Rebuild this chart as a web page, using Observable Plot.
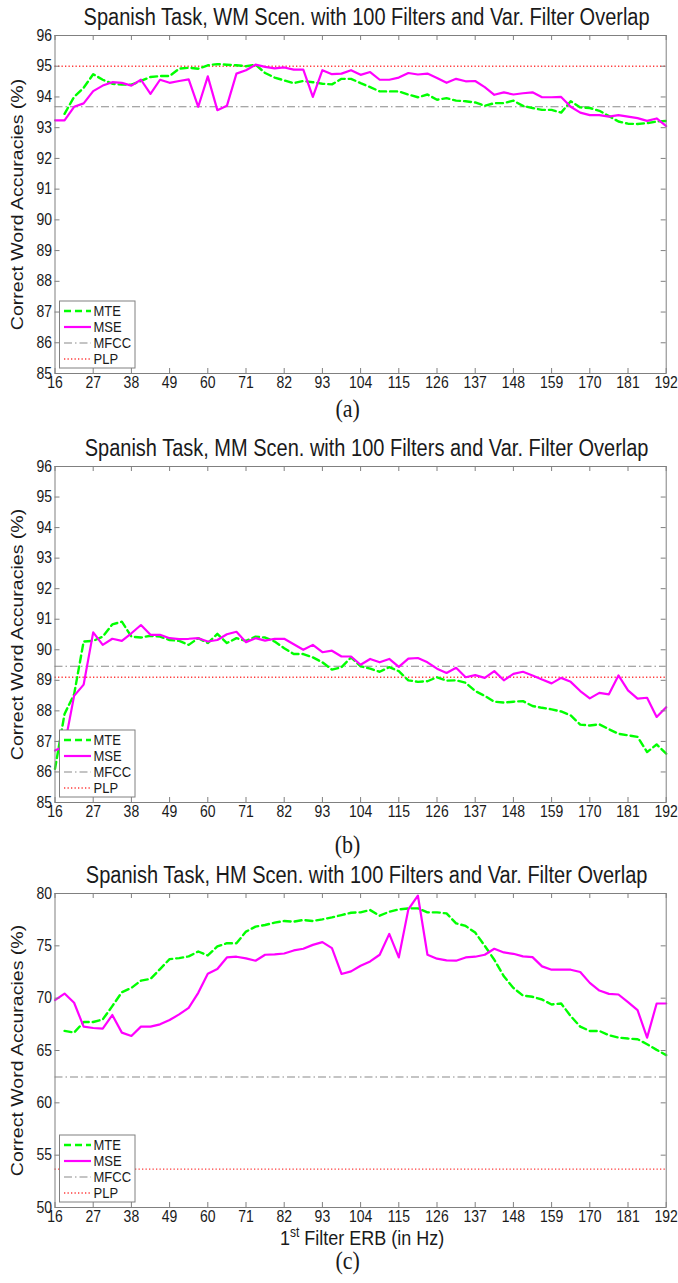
<!DOCTYPE html>
<html><head><meta charset="utf-8">
<script src="https://cdn.jsdelivr.net/npm/d3@7"></script>
<script src="https://cdn.jsdelivr.net/npm/@observablehq/plot@0.6"></script>
<style>
body{margin:0;background:#fff;width:678px;}
#chart svg{display:block;}
</style></head><body><div id="chart"></div>
<script>
// ---------- data ----------
const erb = [16,18.75,21.5,24.25,27,29.75,32.5,35.25,38,40.75,43.5,46.25,49,51.75,54.5,57.25,60,62.75,65.5,68.25,71,73.75,76.5,79.25,82,84.75,87.5,90.25,93,95.75,98.5,101.25,104,106.75,109.5,112.25,115,117.75,120.5,123.25,126,128.75,131.5,134.25,137,139.75,142.5,145.25,148,150.75,153.5,156.25,159,161.75,164.5,167.25,170,172.75,175.5,178.25,181,183.75,186.5,189.25,192];
const xTicks = [16,27,38,49,60,71,82,93,104,115,126,137,148,159,170,181,192];
const yTicksAB = [85,86,87,88,89,90,91,92,93,94,95,96];
const yTicksC = [50,55,60,65,70,75,80];

const aMTE = [null,93.45,94.0,94.3,94.74,94.56,94.43,94.4,94.4,94.52,94.65,94.68,94.68,94.92,94.95,94.92,95.03,95.07,95.05,95.03,95.0,95.05,94.78,94.63,94.54,94.45,94.52,94.48,94.43,94.41,94.59,94.59,94.45,94.32,94.18,94.18,94.18,94.08,93.99,94.08,93.91,93.96,93.88,93.86,93.82,93.71,93.8,93.8,93.88,93.71,93.64,93.58,93.58,93.49,93.86,93.66,93.64,93.55,93.38,93.2,93.13,93.12,93.15,93.2,93.22];
const aMSE = [93.24,93.24,93.68,93.79,94.19,94.37,94.48,94.46,94.37,94.56,94.1,94.56,94.46,94.52,94.57,93.68,94.67,93.57,93.71,94.76,94.87,95.05,94.98,94.93,94.96,94.89,94.89,94.0,94.87,94.74,94.76,94.87,94.72,94.81,94.56,94.56,94.63,94.78,94.73,94.76,94.62,94.46,94.59,94.51,94.52,94.32,94.07,94.15,94.08,94.12,94.15,93.99,93.99,94.0,93.68,93.49,93.41,93.41,93.36,93.41,93.36,93.31,93.22,93.3,93.05];
const aMFCC = 93.68, aPLP = 95.0;

const bMTE = [86.1,87.9,88.54,90.27,90.29,90.43,90.83,90.92,90.43,90.4,90.46,90.43,90.32,90.29,90.16,90.38,90.22,90.52,90.22,90.38,90.29,90.43,90.4,90.27,90.05,89.86,89.86,89.75,89.59,89.35,89.43,89.75,89.46,89.38,89.28,89.43,89.3,89.0,88.95,88.97,89.1,88.99,89.0,88.92,88.65,88.49,88.3,88.27,88.3,88.32,88.16,88.1,88.05,87.98,87.85,87.55,87.52,87.56,87.4,87.25,87.2,87.15,86.65,86.9,86.6];
const bMSE = [86.7,86.85,88.49,88.86,90.57,90.16,90.36,90.29,90.54,90.81,90.49,90.49,90.38,90.35,90.36,90.38,90.27,90.32,90.51,90.59,90.25,90.38,90.3,90.36,90.36,90.18,90.0,90.16,89.92,89.97,89.78,89.78,89.51,89.7,89.59,89.7,89.44,89.71,89.73,89.59,89.38,89.24,89.41,89.1,89.17,89.08,89.3,89.0,89.21,89.28,89.16,89.03,88.9,89.08,88.95,88.65,88.41,88.59,88.54,89.16,88.67,88.4,88.43,87.8,88.12];
const bMFCC = 89.46, bPLP = 89.1;

const cMTE = [null,66.87,66.71,67.72,67.72,67.97,69.24,70.57,70.98,71.68,71.84,72.78,73.73,73.83,73.99,74.46,74.08,74.94,75.25,75.25,76.36,76.84,76.99,77.22,77.37,77.31,77.47,77.37,77.53,77.72,77.94,78.16,78.2,78.42,77.88,78.26,78.48,78.58,78.58,78.2,78.2,78.1,77.15,76.9,76.27,75.0,73.67,72.09,70.98,70.25,70.13,69.87,69.4,69.49,68.29,67.28,66.87,66.87,66.46,66.23,66.14,66.08,65.6,65.06,64.56];
const cMSE = [69.81,70.44,69.56,67.28,67.15,67.09,68.39,66.71,66.39,67.28,67.28,67.5,67.91,68.45,69.08,70.51,72.34,72.78,73.89,73.96,73.8,73.58,74.15,74.18,74.27,74.56,74.72,75.09,75.35,74.78,72.31,72.56,73.1,73.51,74.15,76.14,73.89,78.48,79.8,74.15,73.77,73.61,73.58,73.89,73.96,74.15,74.72,74.37,74.24,73.99,73.92,73.04,72.72,72.72,72.72,72.5,71.46,70.73,70.41,70.35,69.62,68.86,66.23,69.49,69.49];
const cMFCC = 62.47, cPLP = 53.66;

const titles = [
  "Spanish Task, WM Scen. with 100 Filters and Var. Filter Overlap",
  "Spanish Task, MM Scen. with 100 Filters and Var. Filter Overlap",
  "Spanish Task, HM Scen. with 100 Filters and Var. Filter Overlap"
];
const panelTags = ["(a)","(b)","(c)"];
const seriesNames = ["MTE","MSE","MFCC","PLP"];
const yLabel = "Correct Word Accuracies (%)";

// ---------- styles ----------
const FONT = '"Liberation Sans", Arial, Helvetica, sans-serif';
const SERIF = '"Liberation Serif", "Times New Roman", serif';
const STRETCH = 1.15;
const FRAME = "#808080";
const INK = "#1a1a1a";
const styles = {
  MTE: {stroke: "#00ff00", strokeWidth: 2.4, strokeDasharray: "7,4"},
  MSE: {stroke: "#ff00ff", strokeWidth: 2.2},
  MFCC: {stroke: "#8a8a8a", strokeWidth: 1.1, strokeDasharray: "8,3,1.5,3"},
  PLP: {stroke: "#ff3b3b", strokeWidth: 1.3, strokeDasharray: "1.3,2.2"}
};

const W = 678, ML = 54.5, MR = 12.3;

function stretchText(svg) {
  d3.select(svg).selectAll("text").each(function() {
    let t = this.getAttribute("transform") || "";
    if (!t) {
      const x = +this.getAttribute("x") || 0, y = +this.getAttribute("y") || 0;
      this.removeAttribute("x"); this.removeAttribute("y");
      t = `translate(${x},${y})`;
    }
    if (t.includes("rotate(")) t = t.replace("rotate(", `scale(1,${STRETCH}) rotate(`);
    else t = t + ` scale(1,${STRETCH})`;
    this.setAttribute("transform", t);
  });
}

function addLegend(svg, plotBottom) {
  const g = d3.select(svg).append("g");
  const left = ML + 5, w = 75.5, h = 67, top = plotBottom - 5 - h;
  g.append("rect").attr("x", left).attr("y", top).attr("width", w).attr("height", h)
    .attr("fill", "white").attr("stroke", FRAME).attr("stroke-width", 1);
  seriesNames.forEach((name, k) => {
    const y = top + 10 + 16 * k;
    const s = styles[name];
    g.append("line").attr("x1", left + 4.5).attr("x2", left + 31.5).attr("y1", y).attr("y2", y)
      .attr("stroke", s.stroke).attr("stroke-width", s.strokeWidth)
      .attr("stroke-dasharray", s.strokeDasharray || null);
    g.append("text").attr("transform", `translate(${left + 34},${y})`).attr("dy", "0.35em")
      .attr("text-anchor", "start")
      .attr("font-family", FONT).attr("font-size", 13).attr("fill", INK).text(name);
  });
}

function makePanel({mte, mse, mfcc, plp, yDomain, yTicks, title, tag, height, mt, mb, tagDy, xLabel}) {
  const rows = erb.map((x, i) => ({x, mte: mte[i], mse: mse[i]}));
  const plotH = height - mt - mb, plotW = W - ML - MR;
  const svg = Plot.plot({
    width: W, height, marginTop: mt, marginBottom: mb, marginLeft: ML, marginRight: MR,
    style: {fontFamily: FONT, fontSize: "14px", color: INK, background: "white"},
    x: {domain: [16, 192], label: null},
    y: {domain: yDomain, label: null},
    marks: [
      Plot.ruleY([mfcc], {y: d => d, ...styles.MFCC}),
      Plot.ruleY([plp], {y: d => d, ...styles.PLP}),
      Plot.line(rows, {x: "x", y: "mte", ...styles.MTE}),
      Plot.line(rows, {x: "x", y: "mse", ...styles.MSE}),
      Plot.tickX(xTicks, {x: d => d, insetBottom: plotH - 5, stroke: FRAME}),
      Plot.tickX(xTicks, {x: d => d, insetTop: plotH - 5, stroke: FRAME}),
      Plot.tickY(yTicks, {y: d => d, insetRight: plotW - 5, stroke: FRAME}),
      Plot.tickY(yTicks, {y: d => d, insetLeft: plotW - 5, stroke: FRAME}),
      Plot.frame({stroke: FRAME}),
      Plot.axisX({ticks: xTicks, tickSize: 0, tickPadding: 3, fill: INK}),
      Plot.axisY({ticks: yTicks, tickSize: 0, tickPadding: 3, fill: INK}),
      Plot.text([title], {text: d => d, frameAnchor: "top", textAnchor: "middle", dx: 6, dy: -11, lineAnchor: "bottom", fontSize: 20, fill: INK}),
      Plot.text([yLabel], {text: d => d, frameAnchor: "left", textAnchor: "middle", lineAnchor: "middle", rotate: -90, dx: -37.5, fontSize: 17, fill: INK}),
      Plot.text([tag], {text: d => d, frameAnchor: "bottom", textAnchor: "middle", dx: -13, dy: tagDy, fontSize: 22, fontFamily: SERIF, fill: INK})
    ]
  });
  addLegend(svg, height - mb);
  if (xLabel) {
    const t = d3.select(svg).append("text")
      .attr("transform", `translate(${ML + plotW / 2 + 2},${height - mb + 38})`)
      .attr("text-anchor", "middle").attr("font-family", FONT).attr("font-size", 18).attr("fill", INK);
    t.append("tspan").text("1");
    t.append("tspan").attr("font-size", 12).attr("dy", "-0.55em").text("st");
    t.append("tspan").attr("dy", "0.37em").text(" Filter ERB (in Hz)");
  }
  stretchText(svg);
  return svg;
}

const root = document.getElementById("chart");
root.appendChild(makePanel({mte: aMTE, mse: aMSE, mfcc: aMFCC, plp: aPLP, yDomain: [85, 96], yTicks: yTicksAB,
  title: titles[0], tag: panelTags[0], height: 430, mt: 35, mb: 57, tagDy: 43}));
root.appendChild(makePanel({mte: bMTE, mse: bMSE, mfcc: bMFCC, plp: bPLP, yDomain: [85, 96], yTicks: yTicksAB,
  title: titles[1], tag: panelTags[1], height: 432, mt: 36, mb: 60, tagDy: 50}));
root.appendChild(makePanel({mte: cMTE, mse: cMSE, mfcc: cMFCC, plp: cPLP, yDomain: [50, 80], yTicks: yTicksC,
  title: titles[2], tag: panelTags[2], height: 421, mt: 31, mb: 76, tagDy: 61, xLabel: true}));
</script></body></html>
